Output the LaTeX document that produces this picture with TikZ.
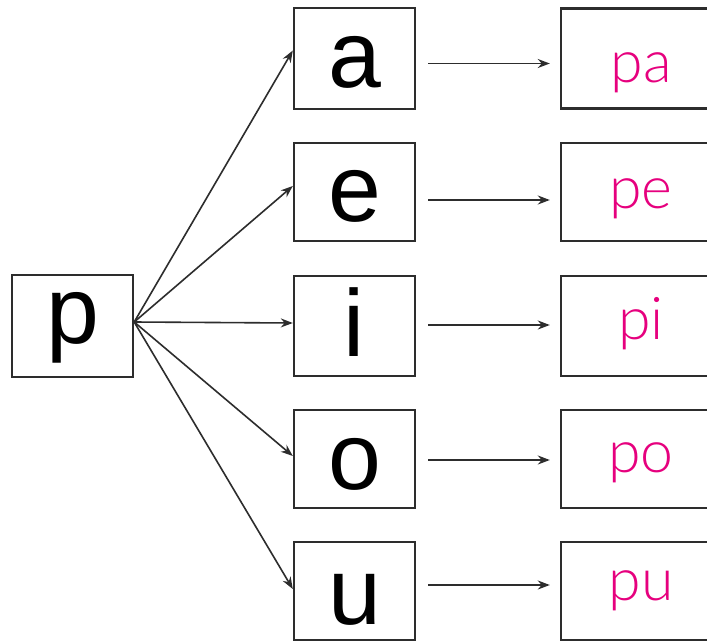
\documentclass[tikz,border=0pt]{standalone}
\usepackage{fontspec}
\setmainfont{Liberation Sans}
\newfontfamily\pinkfont{Lato}[UprightFont={* Light}]
\usetikzlibrary{arrows.meta}
\definecolor{pinkc}{RGB}{230,0,126}
\definecolor{boxc}{RGB}{45,45,45}
\newcommand{\lowr}[2]{\raisebox{-#1pt}[0pt][0pt]{#2}}
\begin{document}
\begin{tikzpicture}[x=1pt,y=-1pt,
  box/.style={draw=boxc,line width=2.4pt,fill=white,inner sep=0pt,minimum width=121pt,font=\fontsize{95}{95}\selectfont},
  res/.style={draw=boxc,line width=2.4pt,fill=white,inner sep=0pt,minimum width=160pt,font=\pinkfont\fontsize{59}{59}\selectfont,text=pinkc},
  arr/.style={draw=boxc,line width=1.6pt,-{Stealth[length=12pt,width=9pt]}}]
\useasboundingbox (0,0) rectangle (707,643);
\clip (0,0) rectangle (707,643);
\fill[white] (0,0) rectangle (707,643);
\node[box,minimum height=102pt] (p) at (72.5,326) {\lowr{17}{p}};
\node[box,minimum height=101pt] (a) at (354.5,58.5) {\lowr{29}{a}};
\node[box,minimum height=98pt] (e) at (354.5,192) {\lowr{29}{e}};
\node[box,minimum height=100pt] (i) at (354.5,326) {\lowr{30}{i}};
\node[box,minimum height=98pt] (o) at (354.5,459) {\lowr{30}{o}};
\node[box,minimum height=98pt] (u) at (354.5,591) {\lowr{33}{u}};
\node[res,minimum height=100pt] (pa) at (641,58.5) {\lowr{24}{pa}};
\node[res,minimum height=98pt] (pe) at (641,192) {\lowr{16}{pe}};
\node[res,minimum height=100pt] (pi) at (641,326) {\lowr{13}{pi}};
\node[res,minimum height=98pt] (po) at (641,459) {\lowr{13}{po}};
\node[res,minimum height=98pt] (pu) at (641,591) {\lowr{9}{pu}};
\coordinate (s) at ([yshift=4pt]p.east);
\draw[arr] (s) -- ([yshift=8pt]a.west);
\draw[arr] (s) -- ([yshift=6pt]e.west);
\draw[arr] (s) -- ([yshift=3pt]i.west);
\draw[arr] (s) -- ([yshift=3pt]o.west);
\draw[arr] (s) -- ([yshift=2pt]u.west);
\draw[arr,shorten <=12pt,shorten >=10pt] ([yshift=-5pt]a.east) -- ([yshift=-5pt]a.east -| pa.west);
\draw[arr,shorten <=12pt,shorten >=10pt] ([yshift=-8pt]e.east) -- ([yshift=-8pt]e.east -| pe.west);
\draw[arr,shorten <=12pt,shorten >=10pt] ([yshift=1pt]i.east) -- ([yshift=1pt]i.east -| pi.west);
\draw[arr,shorten <=12pt,shorten >=10pt] ([yshift=-1pt]o.east) -- ([yshift=-1pt]o.east -| po.west);
\draw[arr,shorten <=12pt,shorten >=10pt] ([yshift=6pt]u.east) -- ([yshift=6pt]u.east -| pu.west);
\end{tikzpicture}
\end{document}
